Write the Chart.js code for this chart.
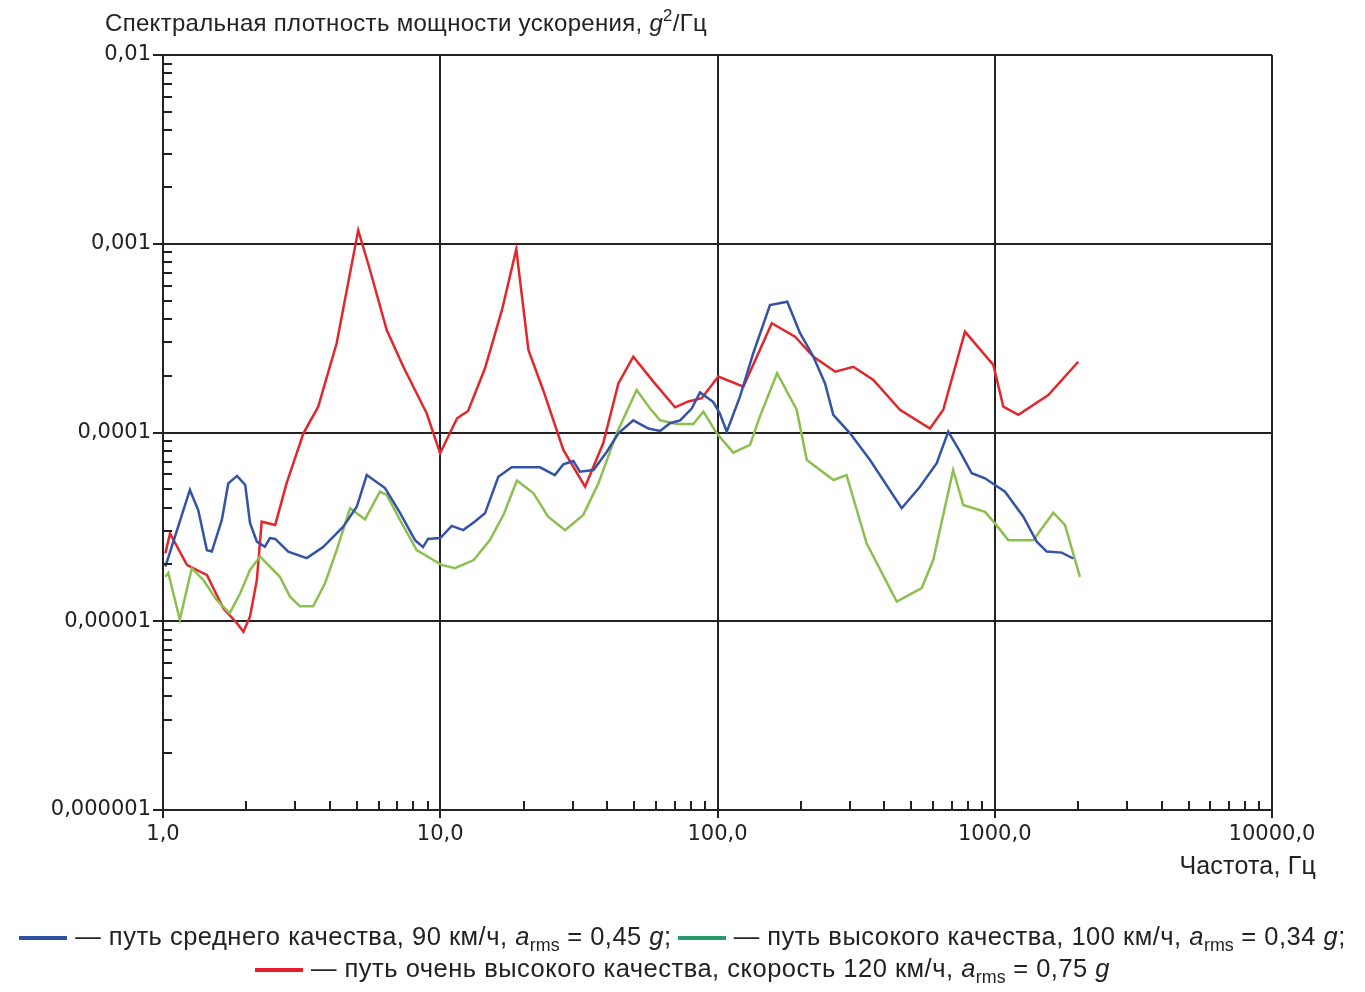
<!DOCTYPE html>
<html>
<head>
<meta charset="utf-8">
<script src="https://cdn.jsdelivr.net/npm/chart.js@4.4.1/dist/chart.umd.min.js"></script>
<style>
  body { margin: 0; background: #fff; font-family: "Liberation Sans", Arial, sans-serif; color: #222; }
  #wrap { position: relative; width: 1365px; height: 992px; overflow: hidden; }
  #chart { position: absolute; left: 0; top: 0; }
  .txt { position: absolute; white-space: nowrap; }
  #title { left: 105px; top: 6px; font-size: 24px; letter-spacing: 0.3px; }
  #xtitle { right: 49px; top: 851px; font-size: 25px; letter-spacing: 0.2px; }
  .legline { position: absolute; left: 0; width: 1365px; text-align: center; font-size: 25.5px; letter-spacing: 0.5px; }
  .sw { display: inline-block; width: 48px; height: 4px; vertical-align: middle; margin-right: 8px; }
  sub { font-size: 70%; vertical-align: -6px; letter-spacing: 0; }
  sup { font-size: 70%; vertical-align: 10px; }
</style>
</head>
<body>
<div id="wrap">
  <canvas id="chart" width="1365" height="992"></canvas>
  <div id="title" class="txt">Спектральная плотность мощности ускорения, <i>g</i><sup>2</sup>/Гц</div>
  <div id="xtitle" class="txt">Частота, Гц</div>
  <div class="legline" style="top:922px">
    <span class="sw" style="background:#2f4fa3"></span>— путь среднего качества, 90 км/ч, <i>a</i><sub>rms</sub> = 0,45 <i>g</i>;<span class="sw" style="background:#2a9a68;margin-left:6px"></span>— путь высокого качества, 100 км/ч, <i>a</i><sub>rms</sub> = 0,34 <i>g</i>;
  </div>
  <div class="legline" style="top:954px">
    <span class="sw" style="background:#e41f2b"></span>— путь очень высокого качества, скорость 120 км/ч, <i>a</i><sub>rms</sub> = 0,75 <i>g</i>
  </div>
</div>
<script>
// Frequency (Hz) and PSD (g^2/Hz)
var blueFreq = [1.02, 1.25, 1.34, 1.44, 1.50, 1.63, 1.72, 1.85, 1.98, 2.06, 2.18, 2.33, 2.43, 2.54, 2.83, 3.30, 3.78, 4.46, 5.0, 5.43,
                6.32, 7.16, 8.11, 8.67, 9.03, 10.0, 11.0, 12.1, 13.3, 14.5, 16.2, 18.1, 22.9, 25.9, 27.8, 30.2, 31.9, 35.7, 39.9, 43.9,
                49.7, 56.3, 62.1, 67.4, 73.3, 80.7, 86.5, 96.6, 102, 108, 120.5, 134.6, 154.6, 178.5, 198.5, 221.8, 244.3, 261.6, 300.7, 354.9,
                461.7, 537.3, 617.6, 679.7, 749.4, 826, 922, 1002, 1089, 1268, 1417, 1540, 1744, 1920];
var bluePsd = [1.95e-5, 4.96e-5, 3.88e-5, 2.38e-5, 2.34e-5, 3.44e-5, 5.38e-5, 5.89e-5, 5.27e-5, 3.32e-5, 2.64e-5, 2.48e-5, 2.76e-5, 2.73e-5, 2.34e-5, 2.16e-5, 2.47e-5, 3.16e-5, 4.04e-5, 5.95e-5,
               5.08e-5, 3.75e-5, 2.69e-5, 2.47e-5, 2.73e-5, 2.76e-5, 3.2e-5, 3.04e-5, 3.37e-5, 3.73e-5, 5.83e-5, 6.54e-5, 6.54e-5, 5.95e-5, 6.79e-5, 7.06e-5, 6.2e-5, 6.33e-5, 7.91e-5, 9.9e-5,
               1.16e-4, 1.05e-4, 1.02e-4, 1.12e-4, 1.16e-4, 1.34e-4, 1.63e-4, 1.45e-4, 1.26e-4, 1.01e-4, 1.55e-4, 2.63e-4, 4.73e-4, 4.93e-4, 3.36e-4, 2.52e-4, 1.82e-4, 1.24e-4, 9.9e-5, 7.15e-5,
               3.97e-5, 5.16e-5, 6.87e-5, 1.01e-4, 7.91e-5, 6.08e-5, 5.72e-5, 5.27e-5, 4.86e-5, 3.58e-5, 2.64e-5, 2.34e-5, 2.31e-5, 2.15e-5];

var greenFreq = [1.02, 1.045, 1.15, 1.27, 1.40, 1.56, 1.74, 1.90, 2.06, 2.24, 2.43, 2.64, 2.87, 3.12, 3.48, 3.84, 4.23, 4.73, 5.35, 6.06,
                 6.41, 7.16, 8.22, 9.44, 10.1, 11.3, 13.2, 15.1, 16.9, 18.9, 21.7, 24.5, 28.2, 32.8, 37.2, 43.3, 51.1, 57.1, 62.1, 71.3,
                 81.8, 88.9, 99.4, 114, 131, 142, 164, 193, 210, 262, 292, 345, 443, 545, 600, 708, 770, 922, 1002, 1119,
                 1377, 1626, 1791, 2029];
var greenPsd = [1.72e-5, 1.8e-5, 1.02e-5, 1.91e-5, 1.65e-5, 1.30e-5, 1.10e-5, 1.41e-5, 1.87e-5, 2.2e-5, 1.95e-5, 1.72e-5, 1.35e-5, 1.2e-5, 1.2e-5, 1.59e-5, 2.38e-5, 3.97e-5, 3.47e-5, 4.86e-5,
                4.67e-5, 3.44e-5, 2.38e-5, 2.11e-5, 1.99e-5, 1.91e-5, 2.11e-5, 2.69e-5, 3.66e-5, 5.56e-5, 4.76e-5, 3.58e-5, 3.04e-5, 3.66e-5, 5.38e-5, 9.9e-5, 1.68e-4, 1.34e-4, 1.16e-4, 1.11e-4,
                1.11e-4, 1.29e-4, 9.9e-5, 7.82e-5, 8.59e-5, 1.21e-4, 2.06e-4, 1.32e-4, 7.15e-5, 5.6e-5, 5.95e-5, 2.59e-5, 1.27e-5, 1.5e-5, 2.11e-5, 6.33e-5, 4.13e-5, 3.8e-5, 3.3e-5, 2.69e-5,
                2.69e-5, 3.76e-5, 3.24e-5, 1.72e-5];

var redFreq = [1.02, 1.06, 1.22, 1.32, 1.44, 1.65, 1.85, 1.95, 2.06, 2.18, 2.27, 2.54, 2.79, 3.21, 3.63, 4.23, 5.06, 5.58, 6.41, 7.36,
               8.94, 9.99, 11.5, 12.6, 14.5, 16.7, 18.8, 20.8, 23.5, 27.8, 33.3, 38.7, 43.9, 49.7, 58.7, 70.3, 78.5, 87.7, 100.7, 124,
               157, 190.5, 222, 266, 309, 365, 455, 584, 652, 781, 988, 1074, 1217, 1560, 2001];
var redPsd = [2.29e-5, 2.92e-5, 1.99e-5, 1.87e-5, 1.76e-5, 1.17e-5, 9.75e-6, 8.8e-6, 1.06e-5, 1.65e-5, 3.37e-5, 3.24e-5, 5.38e-5, 9.9e-5, 1.37e-4, 2.97e-4, 1.18e-3, 7.26e-4, 3.49e-4, 2.23e-4,
              1.26e-4, 7.76e-5, 1.19e-4, 1.30e-4, 2.19e-4, 4.46e-4, 9.35e-4, 2.74e-4, 1.68e-4, 8.08e-5, 5.16e-5, 8.77e-5, 1.82e-4, 2.52e-4, 1.86e-4, 1.36e-4, 1.46e-4, 1.52e-4, 1.98e-4, 1.75e-4,
              3.79e-4, 3.22e-4, 2.52e-4, 2.1e-4, 2.23e-4, 1.9e-4, 1.32e-4, 1.05e-4, 1.32e-4, 3.42e-4, 2.28e-4, 1.37e-4, 1.24e-4, 1.58e-4, 2.37e-4];

var seriesNames = ["путь среднего качества", "путь высокого качества", "путь очень высокого качества"];
var seriesColors = ["#3553a6", "#8cbf50", "#e3262b"];

var xTicks = [];
var yTicks = [];
for (var d = 0; d < 4; d++) {
    for (var m = 1; m < 10; m++) xTicks.push(m * Math.pow(10, d));
}
xTicks.push(10000);
for (var e = -6; e < -2; e++) {
    for (var k = 1; k < 10; k++) yTicks.push(parseFloat((k * Math.pow(10, e)).toPrecision(3)));
}
yTicks.push(0.01);

function isMajor(v) {
    var l = Math.log10(v);
    return Math.abs(l - Math.round(l)) < 1e-9;
}

function pairs(fx, fy) {
    return fx.map(function (f, i) { return { x: f, y: fy[i] }; });
}

// small inward ticks for minor values, like on the printed graph
var minorTicks = {
    id: 'minorTicks',
    afterDraw: function (chart) {
        var ctx = chart.ctx, a = chart.chartArea;
        var sx = chart.scales.x, sy = chart.scales.y;
        ctx.save();
        ctx.strokeStyle = '#222';
        ctx.lineWidth = 2;
        ctx.beginPath();
        xTicks.forEach(function (t) {
            if (isMajor(t)) return;
            var px = Math.round(sx.getPixelForValue(t));
            ctx.moveTo(px, a.bottom);
            ctx.lineTo(px, a.bottom - 9);
        });
        yTicks.forEach(function (t) {
            if (isMajor(t)) return;
            var py = Math.round(sy.getPixelForValue(t));
            ctx.moveTo(a.left, py);
            ctx.lineTo(a.left + 9, py);
        });
        ctx.stroke();
        ctx.restore();
    }
};

var ctx = document.getElementById("chart").getContext("2d");
var chart = new Chart(ctx, {
    type: 'scatter',
    data: {
        datasets: [
            { label: seriesNames[0], data: pairs(blueFreq, bluePsd), borderColor: seriesColors[0] },
            { label: seriesNames[1], data: pairs(greenFreq, greenPsd), borderColor: seriesColors[1] },
            { label: seriesNames[2], data: pairs(redFreq, redPsd), borderColor: seriesColors[2] }
        ]
    },
    options: {
        responsive: false,
        animation: false,
        showLine: true,
        elements: {
            point: { radius: 0 },
            line: { borderWidth: 2.5, tension: 0 }
        },
        layout: { padding: { top: 55, right: 93, left: 0, bottom: 0 } },
        plugins: {
            legend: { display: false },
            tooltip: { enabled: false }
        },
        scales: {
            x: {
                type: 'logarithmic',
                min: 1,
                max: 10000,
                afterBuildTicks: function (scale) {
                    scale.ticks = xTicks.map(function (v) { return { value: v }; });
                },
                afterFit: function (scale) { scale.height = 182; },
                border: { display: true, color: '#222', width: 2 },
                grid: {
                    color: function (c) { return isMajor(c.tick.value) ? '#222' : 'rgba(0,0,0,0)'; },
                    lineWidth: 2,
                    tickLength: 8,
                    tickColor: function (c) { return isMajor(c.tick.value) ? '#222' : 'rgba(0,0,0,0)'; }
                },
                ticks: {
                    autoSkip: false,
                    maxRotation: 0,
                    padding: 4,
                    color: '#222',
                    font: { family: "'DejaVu Sans', sans-serif", size: 21 },
                    callback: function (v) { return isMajor(v) ? v.toFixed(1).replace('.', ',') : ''; }
                }
            },
            y: {
                type: 'logarithmic',
                min: 0.000001,
                max: 0.01,
                afterBuildTicks: function (scale) {
                    scale.ticks = yTicks.map(function (v) { return { value: v }; });
                },
                afterFit: function (scale) { scale.width = 163; },
                border: { display: true, color: '#222', width: 2 },
                grid: {
                    color: function (c) { return isMajor(c.tick.value) ? '#222' : 'rgba(0,0,0,0)'; },
                    lineWidth: 2,
                    tickLength: 10,
                    tickColor: function (c) { return isMajor(c.tick.value) ? '#222' : 'rgba(0,0,0,0)'; }
                },
                ticks: {
                    autoSkip: false,
                    padding: 2,
                    color: '#222',
                    font: { family: "'DejaVu Sans', sans-serif", size: 21 },
                    callback: function (v) {
                        if (!isMajor(v)) return '';
                        return v.toFixed(-Math.round(Math.log10(v))).replace('.', ',');
                    }
                }
            }
        }
    },
    plugins: [minorTicks]
});
</script>
</body>
</html>
